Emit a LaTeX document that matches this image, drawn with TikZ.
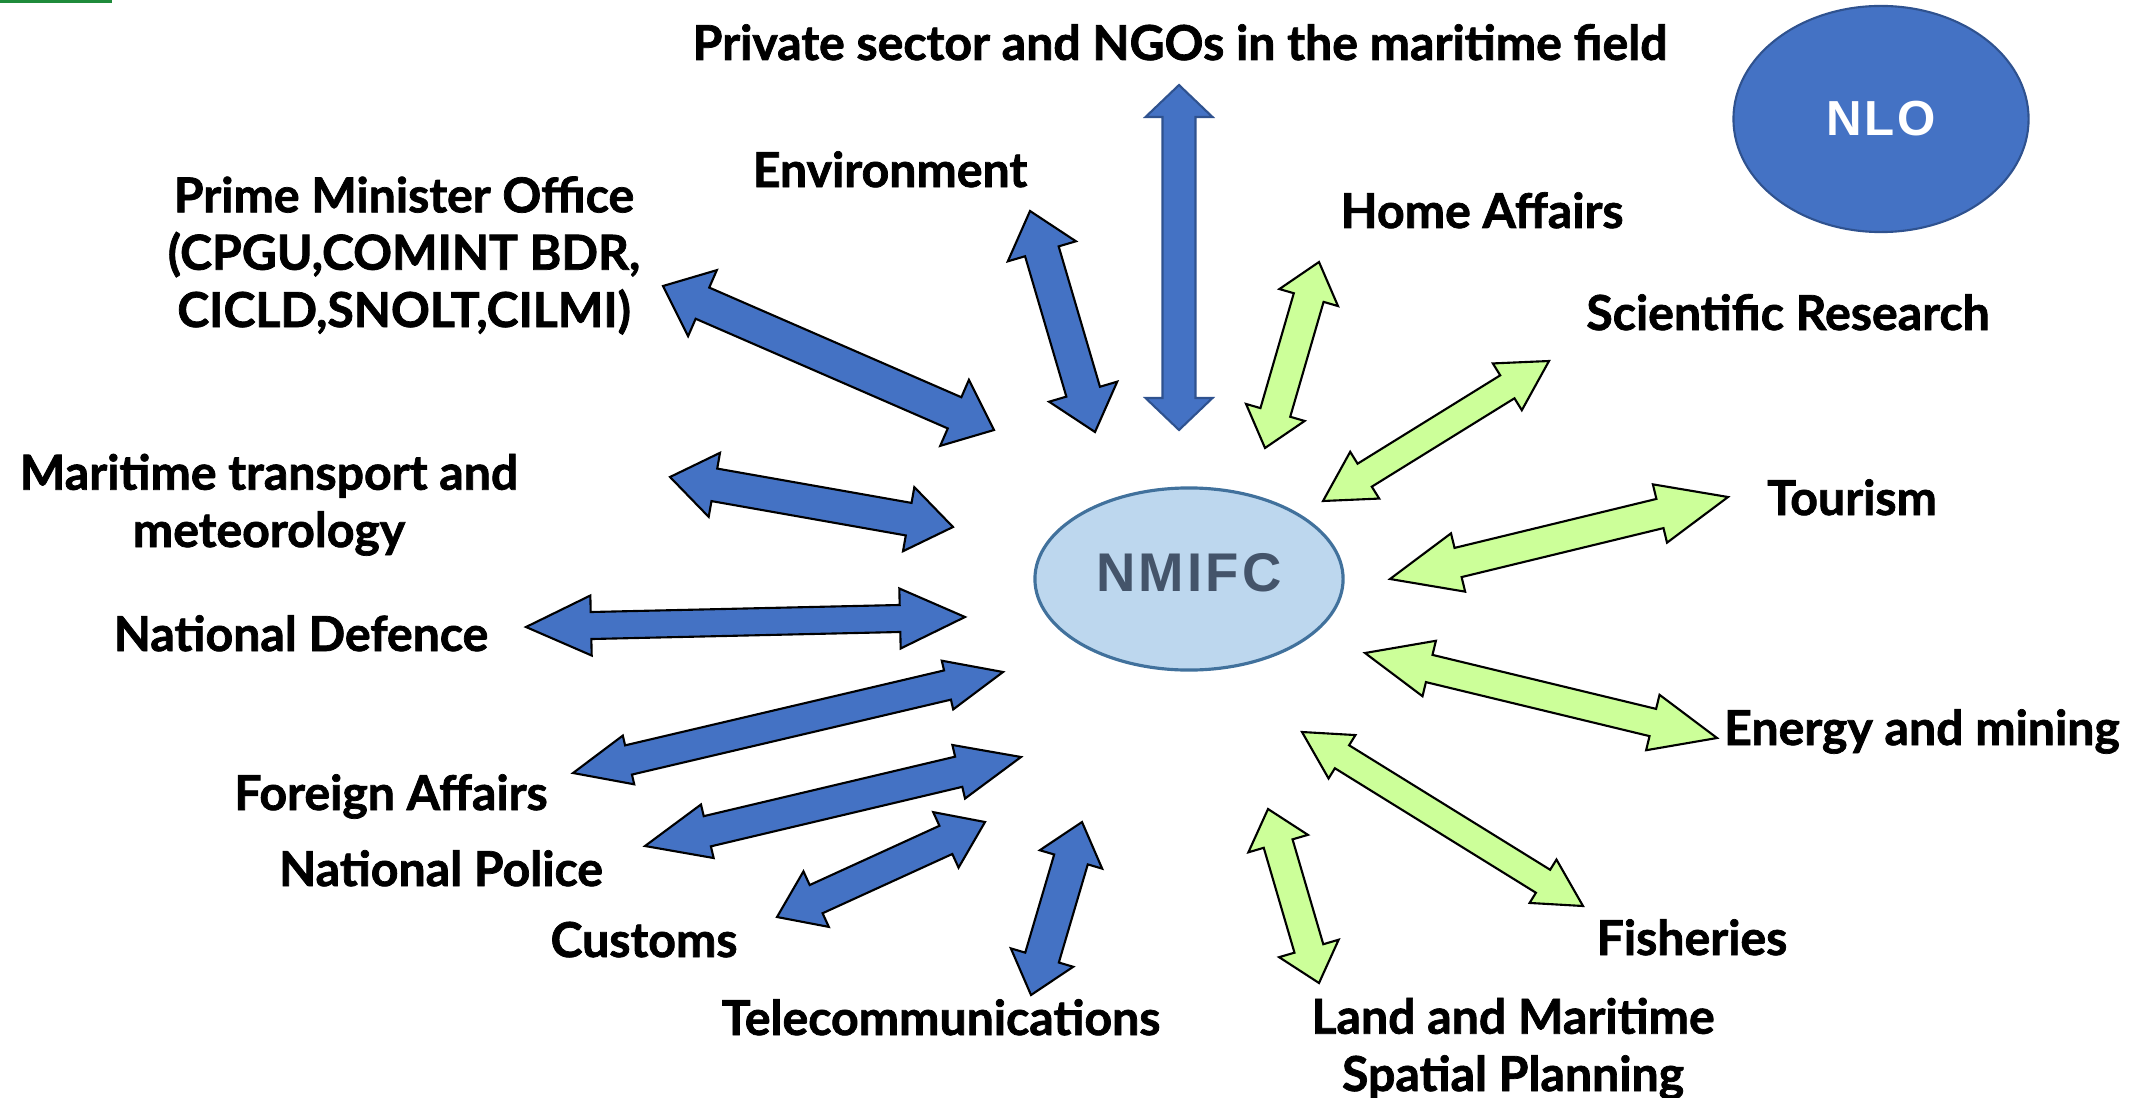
\documentclass[tikz,border=0pt]{standalone}
\usepackage{fontspec}
\setmainfont{Lato}[BoldFeatures={FakeBold=1.5}]
\newfontfamily\hubfont{Liberation Sans}[LetterSpace=6]
\usetikzlibrary{shapes,calc,positioning}
\definecolor{arrowblue}{HTML}{4472C4}
\definecolor{arrowgreen}{HTML}{CCFF99}
\definecolor{hubfill}{HTML}{BDD7EE}
\definecolor{hubline}{HTML}{41719C}
\definecolor{hubtext}{HTML}{44546A}
\definecolor{nloline}{HTML}{2F528F}
\definecolor{cornergreen}{HTML}{1F8B3B}
\tikzset{lbl/.style={font=\bfseries\fontsize{13.7}{16.3}\selectfont, align=center, inner sep=0pt, anchor=base}}
\tikzset{bluearr/.style={draw=black, fill=arrowblue, line width=0.6pt}}
\tikzset{greenarr/.style={draw=black, fill=arrowgreen, line width=0.6pt}}
\tikzset{hub/.style={draw=hubline, fill=hubfill, ellipse, line width=0.9pt, inner sep=0pt}}
% double block arrow: style, end, end, half shaft, half head, head length
\newcommand{\dblarrow}[6]{%
  \coordinate (da) at ($(#2)!#6!(#3)$);
  \coordinate (db) at ($(#3)!#6!(#2)$);
  \path[#1] (#2) -- ($(da)!#5!90:(#3)$) -- ($(da)!#4!90:(#3)$)
    -- ($(db)!#4!-90:(#2)$) -- ($(db)!#5!-90:(#2)$) -- (#3)
    -- ($(db)!#5!90:(#2)$) -- ($(db)!#4!90:(#2)$)
    -- ($(da)!#4!-90:(#3)$) -- ($(da)!#5!-90:(#3)$) -- cycle;
}
\begin{document}
\begin{tikzpicture}[x=0.01cm,y=-0.01cm]
\useasboundingbox (0,0) rectangle (2143,1097);
\fill[cornergreen] (0,0) rectangle (112,3);
%
\node [hub, minimum width=3.08cm, minimum height=1.82cm] (nmifc) at (1189,579) {\raisebox{0.13cm}{\hubfont\bfseries\fontsize{15.5}{18}\selectfont\color{hubtext}NMIFC}};
\node [ellipse, draw=nloline, fill=arrowblue, line width=0.6pt, minimum width=2.95cm, minimum height=2.26cm] (nlo) at (1881,119) {\hubfont\bfseries\fontsize{14}{17}\selectfont\color{white}NLO};
%
\coordinate (pm1) at (663,286);   \coordinate (pm2) at (994,430);
\coordinate (env1) at (1030,211); \coordinate (env2) at (1095,432);
\coordinate (pri1) at (1179,85);  \coordinate (pri2) at (1179,430);
\coordinate (hom1) at (1319,262); \coordinate (hom2) at (1265,448);
\coordinate (sci1) at (1549,361); \coordinate (sci2) at (1323,501);
\coordinate (tou1) at (1728,497); \coordinate (tou2) at (1390,579);
\coordinate (ene1) at (1365,653); \coordinate (ene2) at (1717,738);
\coordinate (fis1) at (1302,732); \coordinate (fis2) at (1583,906);
\coordinate (lan1) at (1268,809); \coordinate (lan2) at (1319,983);
\coordinate (tel1) at (1082,822); \coordinate (tel2) at (1031,995);
\coordinate (cus1) at (777,917);  \coordinate (cus2) at (985,822);
\coordinate (pol1) at (645,846);  \coordinate (pol2) at (1021,757);
\coordinate (for1) at (573,773);  \coordinate (for2) at (1003,672);
\coordinate (def1) at (526,627);  \coordinate (def2) at (965,617);
\coordinate (mar1) at (670,477);  \coordinate (mar2) at (953,527);
%
\dblarrow{bluearr}{pm1}{pm2}{0.17cm}{0.36cm}{0.43cm}
\dblarrow{bluearr}{env1}{env2}{0.175cm}{0.355cm}{0.42cm}
\dblarrow{bluearr, draw=nloline}{pri1}{pri2}{0.165cm}{0.335cm}{0.32cm}
\dblarrow{greenarr}{hom1}{hom2}{0.155cm}{0.305cm}{0.37cm}
\dblarrow{greenarr}{sci1}{sci2}{0.135cm}{0.275cm}{0.49cm}
\dblarrow{greenarr}{tou1}{tou2}{0.15cm}{0.3cm}{0.7cm}
\dblarrow{greenarr}{ene1}{ene2}{0.14cm}{0.285cm}{0.66cm}
\dblarrow{greenarr}{fis1}{fis2}{0.135cm}{0.255cm}{0.47cm}
\dblarrow{greenarr}{lan1}{lan2}{0.15cm}{0.31cm}{0.36cm}
\dblarrow{bluearr}{tel1}{tel2}{0.175cm}{0.325cm}{0.39cm}
\dblarrow{bluearr}{cus1}{cus2}{0.155cm}{0.305cm}{0.43cm}
\dblarrow{bluearr}{pol1}{pol2}{0.155cm}{0.275cm}{0.64cm}
\dblarrow{bluearr}{for1}{for2}{0.15cm}{0.25cm}{0.57cm}
\dblarrow{bluearr}{def1}{def2}{0.135cm}{0.3cm}{0.65cm}
\dblarrow{bluearr}{mar1}{mar2}{0.165cm}{0.325cm}{0.45cm}
%
\node [lbl] (priv) at (1180,60)  {Private sector and NGOs in the maritime field};
\node [lbl] (envi) at (890,187)  {Environment};
\node [lbl] (pmo)  at (404,327)  {Prime Minister Office\\(CPGU,COMINT BDR,\\CICLD,SNOLT,CILMI)};
\node [lbl] (home) at (1482,228) {Home Affairs};
\node [lbl] (scie) at (1788,330) {Scientific Research};
\node [lbl] (tour) at (1852,515) {Tourism};
\node [lbl] (ener) at (1922,745) {Energy and mining};
\node [lbl] (fish) at (1692,955) {Fisheries};
\node [lbl] (land) at (1513,1091) {Land and Maritime\\Spatial Planning};
\node [lbl] (tele) at (941,1035) {Telecommunications};
\node [lbl] (cust) at (644,957)  {Customs};
\node [lbl] (poli) at (441,886)  {National Police};
\node [lbl] (fore) at (391,810)  {Foreign Affairs};
\node [lbl] (defe) at (301,651)  {National Defence};
\node [lbl] (mari) at (269,547)  {Maritime transport and\\meteorology};
\end{tikzpicture}
\end{document}
